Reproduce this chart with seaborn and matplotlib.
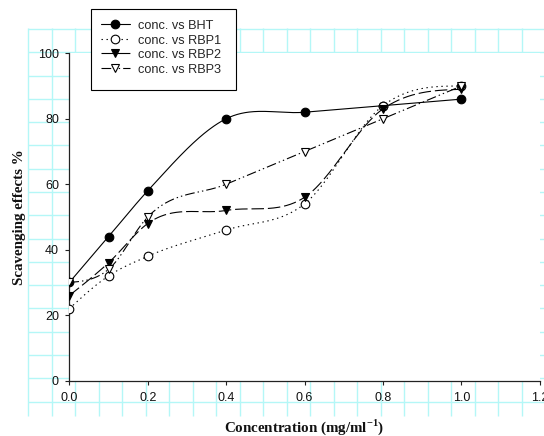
import numpy as np
import matplotlib
matplotlib.use("Agg")
import matplotlib.pyplot as plt
from matplotlib.lines import Line2D
from matplotlib.patches import Rectangle
import seaborn as sns

# Scavenging effect (%) versus concentration for the standard and three extracts
conc = [0.0, 0.1, 0.2, 0.4, 0.6, 0.8, 1.0]
bht = [30, 44, 58, 80, 82, 84, 86]
rbp1 = [22, 32, 38, 46, 54, 84, 90]
rbp2 = [26, 36, 48, 52, 56, 83, 89]
rbp3 = [30, 34, 50, 60, 70, 80, 90]
series_names = ["conc. vs BHT", "conc. vs RBP1", "conc. vs RBP2", "conc. vs RBP3"]
x_ticks = [0.0, 0.2, 0.4, 0.6, 0.8, 1.0, 1.2]
x_tick_labels = ["0.0", "0.2", "0.4", "0.6", "0.8", "1.0", "1.2"]
y_ticks = [0, 20, 40, 60, 80, 100]


def smooth_curve(x, y, n=400):
    """Cubic Hermite curve through the points (three-point tangents, free ends)."""
    x = np.asarray(x, float)
    y = np.asarray(y, float)
    h = np.diff(x)
    d = np.diff(y) / h
    m = np.zeros_like(y)
    m[1:-1] = (h[1:] * d[:-1] + h[:-1] * d[1:]) / (h[:-1] + h[1:])
    m[0] = (3 * d[0] - m[1]) / 2
    m[-1] = (3 * d[-1] - m[-2]) / 2
    xs = np.linspace(x[0], x[-1], n)
    i = np.clip(np.searchsorted(x, xs) - 1, 0, len(x) - 2)
    s = (xs - x[i]) / h[i]
    h00 = 2 * s ** 3 - 3 * s ** 2 + 1
    h10 = s ** 3 - 2 * s ** 2 + s
    h01 = -2 * s ** 3 + 3 * s ** 2
    h11 = s ** 3 - s ** 2
    ys = h00 * y[i] + h10 * h[i] * m[i] + h01 * y[i + 1] + h11 * h[i] * m[i + 1]
    return xs, ys


sns.set_theme(style="white")
plt.rcParams["font.family"] = ["Liberation Sans", "DejaVu Sans"]
plt.rcParams["mathtext.fontset"] = "custom"
plt.rcParams["mathtext.rm"] = "Liberation Serif:bold"
plt.rcParams["mathtext.bf"] = "Liberation Serif:bold"
plt.rcParams["lines.scale_dashes"] = False

W, H = 544, 436
fig = plt.figure(figsize=(W / 100, H / 100), dpi=100)
fig.patch.set_facecolor("white")

# graph-paper backdrop behind the plot
bg = fig.add_axes([0, 0, 1, 1], zorder=0)
bg.set_xlim(0, W)
bg.set_ylim(H, 0)
bg.axis("off")
grid_c = "#b4f7f7"
gx = np.arange(28.3, W, 23.5)
gy = np.arange(29.0, 417, 23.29)
bg.vlines(gx, 28, 416, color=grid_c, lw=1.0)
bg.hlines(gy, 28, W, color=grid_c, lw=1.0)

x0p, x1p, y0p, y1p = 69.3, 539.7, 53.3, 380.7
ax = fig.add_axes([x0p / W, 1 - y1p / H, (x1p - x0p) / W, (y1p - y0p) / H], zorder=1)
ax.set_facecolor("white")

styles = [
    dict(ls="-", marker="o", mfc="black"),
    dict(ls=(0, (1.0, 2.6)), marker="o", mfc="white"),
    dict(ls=(0, (9.0, 2.8)), marker="v", mfc="black"),
    dict(ls=(0, (7.0, 2.2, 1.0, 2.2, 1.0, 2.2)), marker="v", mfc="white"),
]
data = [bht, rbp1, rbp2, rbp3]

handles = []
for vals, st, name in zip(data, styles, series_names):
    xs, ys = smooth_curve(conc, vals)
    sns.lineplot(x=xs, y=ys, ax=ax, color="black", lw=0.8, linestyle=st["ls"],
                 sort=False, estimator=None, legend=False)
    ax.plot(conc, vals, linestyle="none", marker=st["marker"], ms=6.2,
            mfc=st["mfc"], mec="black", mew=0.8, zorder=3)
    handles.append(Line2D([0], [0], color="black", lw=0.8, linestyle=st["ls"],
                          marker=st["marker"], ms=6.2, mfc=st["mfc"],
                          mec="black", mew=0.8))

ax.set_xlim(0, 1.2)
ax.set_ylim(0, 100)
ax.set_xticks(x_ticks)
ax.set_xticklabels(x_tick_labels)
ax.set_yticks(y_ticks)
for s in ["top", "right"]:
    ax.spines[s].set_visible(False)
for s in ["left", "bottom"]:
    ax.spines[s].set_color("#222222")
    ax.spines[s].set_linewidth(0.9)
ax.tick_params(axis="both", direction="out", length=3.0, width=0.8,
               color="#222222", labelsize=9.0, labelcolor="#111111",
               bottom=True, left=True)
ax.tick_params(axis="x", pad=5.0)
ax.tick_params(axis="y", pad=4.5)

ax.set_xlabel(r"Concentration (mg/ml$^{\mathbf{-1}}$)", fontfamily="Liberation Serif",
              fontweight="bold", fontsize=10.8, color="#111111", labelpad=9.5)
ax.set_ylabel("Scavenging effects %", fontfamily="Liberation Serif",
              fontweight="bold", fontsize=10.8, color="#111111", labelpad=8.5)

# legend box with square corners, entries placed inside it
lx0, ly0, lx1, ly1 = 91, 9, 236, 90
box = Rectangle((lx0 / W, 1 - ly1 / H), (lx1 - lx0) / W, (ly1 - ly0) / H,
                transform=fig.transFigure, facecolor="white", edgecolor="black",
                lw=0.8, zorder=4)
fig.add_artist(box)
leg = fig.legend(handles, series_names, loc="upper left",
                 bbox_to_anchor=(lx0 / W, 1 - ly0 / H), bbox_transform=fig.transFigure,
                 fontsize=9.2, handlelength=2.3, handletextpad=0.59,
                 handleheight=1.2, labelspacing=0.05, borderpad=0.75,
                 borderaxespad=0, frameon=False)
leg.set_zorder(5)

fig.savefig("out.png", dpi=100, facecolor="white")
